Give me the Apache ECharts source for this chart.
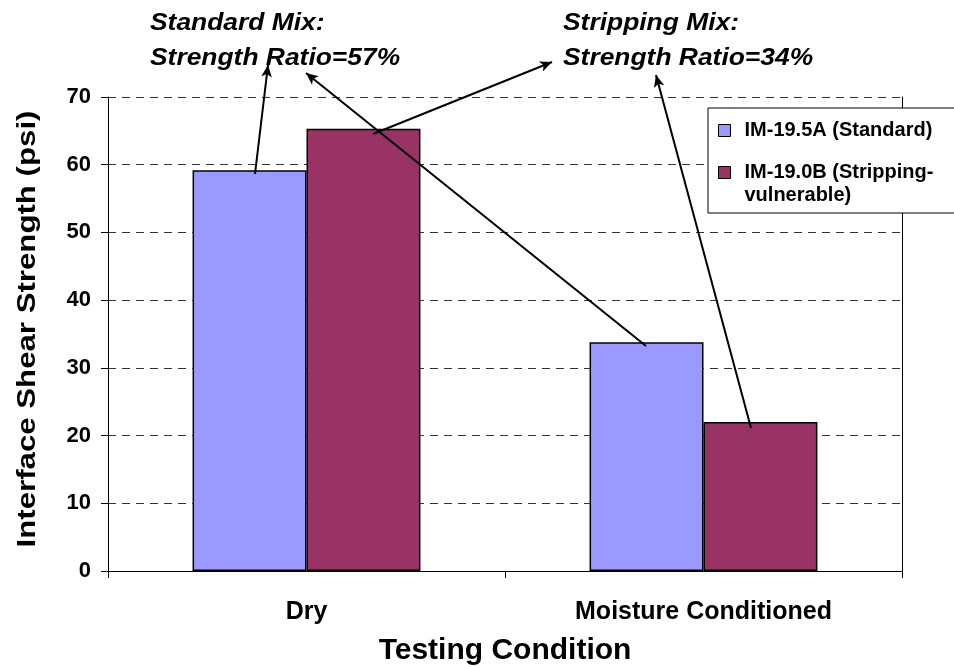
<!DOCTYPE html>
<html>
<head>
<meta charset="utf-8">
<script src="https://cdn.jsdelivr.net/npm/echarts@6/dist/echarts.min.js"></script>
<style>
html,body{margin:0;padding:0;background:#fff;}
#chart{width:954px;height:667px;}
</style>
</head>
<body>
<div id="chart"></div>
<script>
const categories = ['Dry', 'Moisture Conditioned'];
const seriesNames = ['IM-19.5A (Standard)', 'IM-19.0B (Stripping-vulnerable)'];
const standardValues = [59.2, 33.8];
const strippingValues = [65.3, 22.0];
const yMin = 0, yMax = 70, yInterval = 10;
const yAxisTitle = 'Interface Shear Strength (psi)';
const xAxisTitle = 'Testing Condition';
const annotationLines = [
  ['Standard Mix:', 'Strength Ratio=57%'],
  ['Stripping Mix:', 'Strength Ratio=34%']
];

const FONT = '"Liberation Sans", Arial, sans-serif';
const chart = echarts.init(document.getElementById('chart'), null, {renderer: 'canvas'});

const arrowStyle = {color: '#000', width: 2, type: 'solid'};
const annFont = 'italic bold 24px ' + FONT;

chart.setOption({
  animation: false,
  backgroundColor: '#fff',
  grid: {left: 108, right: 52, top: 97, bottom: 96, containLabel: false, outerBoundsMode: 'none'},
  legend: {
    orient: 'vertical',
    left: 708,
    top: 108,
    data: seriesNames,
    icon: 'rect',
    itemWidth: 12,
    itemHeight: 12,
    itemGap: -4,
    backgroundColor: '#fff',
    borderColor: '#000',
    borderWidth: 1,
    borderRadius: 0,
    padding: [11, 40, 6, 10],
    selectedMode: false,
    formatter: function (name) {
      if (name === seriesNames[1]) return '\nIM-19.0B (Stripping-\nvulnerable)';
      return name;
    },
    itemStyle: {borderColor: '#000', borderWidth: 1},
    textStyle: {fontFamily: FONT, fontWeight: 'bold', fontSize: 20, color: '#000', lineHeight: 23, padding: [0, 0, 0, 9]}
  },
  xAxis: {
    type: 'category',
    data: categories,
    boundaryGap: true,
    axisLine: {show: true, lineStyle: {color: '#000', width: 1}},
    axisTick: {show: true, interval: 0, length: 7, lineStyle: {color: '#000'}},
    axisLabel: {fontFamily: FONT, fontWeight: 'bold', fontSize: 25, color: '#000', margin: 29},
    name: xAxisTitle,
    nameLocation: 'middle',
    nameGap: 65,
    nameTextStyle: {fontFamily: FONT, fontWeight: 'bold', fontSize: 30, color: '#000'}
  },
  yAxis: [{
    type: 'value',
    min: yMin, max: yMax, interval: yInterval,
    axisLine: {show: true, lineStyle: {color: '#000', width: 1}},
    axisTick: {show: true, length: 7, lineStyle: {color: '#000'}},
    axisLabel: {fontFamily: FONT, fontWeight: 'bold', fontSize: 22, color: '#000', margin: 17},
    splitLine: {show: true, lineStyle: {color: '#333', type: [8, 6], width: 1}}
  }, {
    type: 'value',
    position: 'right',
    min: yMin, max: yMax, interval: yInterval,
    axisLine: {show: true, lineStyle: {color: '#000', width: 1}},
    axisTick: {show: false},
    axisLabel: {show: false},
    splitLine: {show: false}
  }],
  series: [{
    name: seriesNames[0],
    type: 'bar',
    data: standardValues,
    barGap: '0%',
    barCategoryGap: '42.6%',
    itemStyle: {color: '#9999FF', borderColor: '#000', borderWidth: 1.5}
  }, {
    name: seriesNames[1],
    type: 'bar',
    data: strippingValues,
    barGap: '0%',
    barCategoryGap: '42.6%',
    itemStyle: {color: '#993366', borderColor: '#000', borderWidth: 1.5},
    markLine: {
      silent: true,
      symbol: ['none', 'arrow'],
      symbolSize: [8, 12],
      label: {show: false},
      lineStyle: arrowStyle,
      emphasis: {disabled: true},
      data: [
        [{x: 255, y: 174}, {x: 268, y: 65}],
        [{x: 646, y: 346}, {x: 306, y: 73}],
        [{x: 373, y: 134}, {x: 552, y: 62}],
        [{x: 751, y: 428}, {x: 656, y: 75}]
      ]
    }
  }],
  graphic: [
    {type: 'text', x: 28, y: 329, rotation: Math.PI / 2, scaleX: 1.2,
     style: {text: yAxisTitle, font: 'bold 26px ' + FONT, fill: '#000', align: 'center', verticalAlign: 'middle'}},
    {type: 'text', x: 150, y: 11, scaleX: 1.1, style: {text: annotationLines[0][0], font: annFont, fill: '#000', verticalAlign: 'top'}},
    {type: 'text', x: 150, y: 46, scaleX: 1.1, style: {text: annotationLines[0][1], font: annFont, fill: '#000', verticalAlign: 'top'}},
    {type: 'text', x: 563, y: 11, scaleX: 1.1, style: {text: annotationLines[1][0], font: annFont, fill: '#000', verticalAlign: 'top'}},
    {type: 'text', x: 563, y: 46, scaleX: 1.1, style: {text: annotationLines[1][1], font: annFont, fill: '#000', verticalAlign: 'top'}}
  ]
});
</script>
</body>
</html>
